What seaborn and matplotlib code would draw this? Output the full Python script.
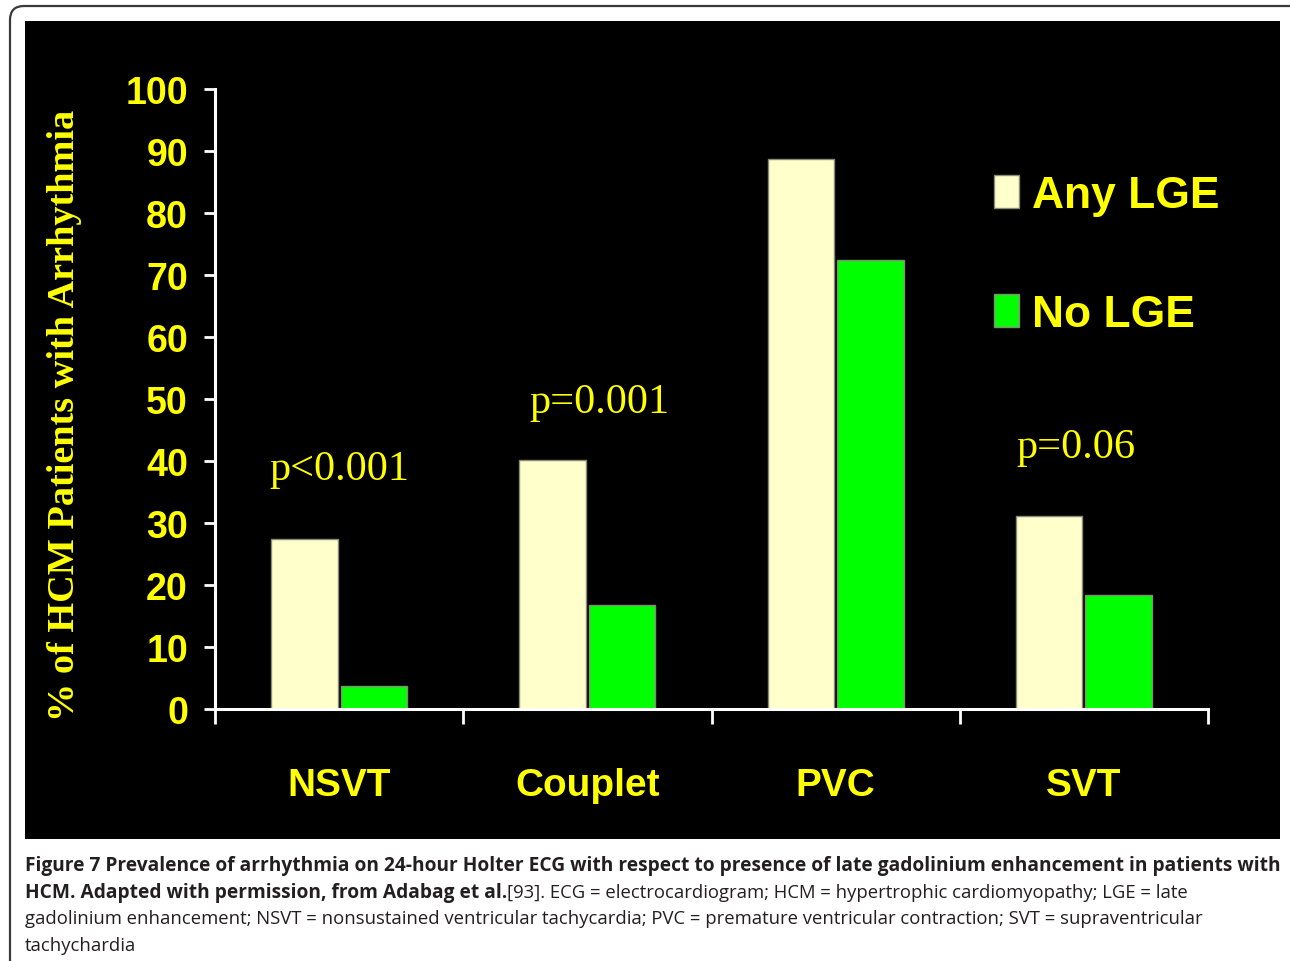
import matplotlib
matplotlib.use("Agg")
import matplotlib.pyplot as plt
import seaborn as sns
import pandas as pd
from matplotlib import font_manager as fm
from matplotlib.patches import Rectangle, FancyBboxPatch
from matplotlib.transforms import IdentityTransform

# ---------------- data ----------------
categories = ["NSVT", "Couplet", "PVC", "SVT"]
groups = ["Any LGE", "No LGE"]
any_lge = [27.5, 40.2, 88.7, 31.1]
no_lge = [3.7, 16.8, 72.4, 18.4]
p_labels = ["p<0.001", "p=0.001", "", "p=0.06"]
p_label_x = [0.0, 1.05, 2.0, 2.97]
p_label_y = [37.1, 47.9, 0.0, 40.6]
y_ticks = list(range(0, 101, 10))
y_label = "% of HCM Patients with Arrhythmia"

caption_lines = [
    [("Figure 7 Prevalence of arrhythmia on 24-hour Holter ECG with respect to presence of late gadolinium enhancement in patients with", "bold")],
    [("HCM. Adapted with permission, from Adabag et al.", "bold"),
     ("[93]. ECG = electrocardiogram; HCM = hypertrophic cardiomyopathy; LGE = late", "normal")],
    [("gadolinium enhancement; NSVT = nonsustained ventricular tachycardia; PVC = premature ventricular contraction; SVT = supraventricular", "normal")],
    [("tachychardia", "normal")],
]

df = pd.DataFrame({
    "category": categories * 2,
    "value": any_lge + no_lge,
    "group": [groups[0]] * len(categories) + [groups[1]] * len(categories),
})

# ---------------- style ----------------
sns.set_theme(style="white")
names = {f.name for f in fm.fontManager.ttflist}
NARROW = "Liberation Sans Narrow" if "Liberation Sans Narrow" in names else "Liberation Sans"
narrow_scale = 1.0 if NARROW == "Liberation Sans Narrow" else 0.82
SERIF = "Liberation Serif"
CAPFONT = "Open Sans" if "Open Sans" in names else "DejaVu Sans"
plt.rcParams["font.family"] = [NARROW, "DejaVu Sans"]

YELLOW = "#FFFF00"
CREAM = "#FFFFCC"
GREEN = "#00FF00"
W, H = 1290, 962

fig = plt.figure(figsize=(W / 100, H / 100), dpi=100, facecolor="white")

# outer rounded frame
frame = FancyBboxPatch((10, -40), 1340, 955 + 40, boxstyle="round,pad=0,rounding_size=14",
                       fill=False, edgecolor="#3a3a3a", linewidth=1.6,
                       transform=IdentityTransform(), zorder=0)
fig.add_artist(frame)
# black panel
panel = Rectangle((25 / W, 1 - 840 / H), 1255 / W, 818 / H, transform=fig.transFigure,
                  facecolor="black", edgecolor="none", zorder=0)
fig.add_artist(panel)

ax = fig.add_axes([215 / W, 1 - 710 / H, 993 / W, 620 / H])
ax.set_facecolor("none")

sns.barplot(data=df, x="category", y="value", hue="group", order=categories,
            hue_order=groups, palette=[CREAM, GREEN], width=0.56, gap=0.04,
            edgecolor="#8a8a7a", linewidth=1.0, saturation=1, ax=ax)

ax.set_xlim(-0.5, len(categories) - 0.5)
ax.set_ylim(0, 100)
for s in ["top", "right"]:
    ax.spines[s].set_visible(False)
for s in ["left", "bottom"]:
    ax.spines[s].set_color("white")
    ax.spines[s].set_linewidth(2.2)

ax.set_yticks(y_ticks)
ax.set_yticklabels([str(t) for t in y_ticks])
ax.tick_params(axis="y", which="major", direction="out", length=8, width=2.0,
               color="white", left=True, pad=11.5, labelcolor=YELLOW,
               labelsize=33 * narrow_scale)
for lab in ax.get_yticklabels():
    lab.set_fontweight("bold")

ax.set_xticks(range(len(categories)))
ax.set_xticklabels(categories)
ax.set_xticks([i - 0.5 for i in range(len(categories) + 1)], minor=True)
ax.tick_params(axis="x", which="major", length=0, pad=42, labelcolor=YELLOW,
               labelsize=34 * narrow_scale)
ax.tick_params(axis="x", which="minor", direction="out", length=11, width=2.0,
               color="white", bottom=True)
for lab in ax.get_xticklabels():
    lab.set_fontweight("bold")
ax.set_xlabel("")
ax.set_ylabel("")

# p-value annotations
for lab, px, py in zip(p_labels, p_label_x, p_label_y):
    if lab:
        ax.text(px, py, lab, ha="center", va="baseline", color=YELLOW,
                family=[SERIF, "DejaVu Serif"], fontsize=30.5)

# y label
fig.text(65 / W, 1 - 415 / H, y_label, rotation=90, ha="center", va="center",
         color=YELLOW, family=[SERIF, "DejaVu Serif"], fontweight="bold", fontsize=27.5)

# legend
old = ax.get_legend()
handles = old.legend_handles
labels = [t.get_text() for t in old.texts]
old.remove()
leg = ax.legend(handles, labels, loc="upper left", frameon=False,
                bbox_to_anchor=(994 / W, 1 - 176 / H), bbox_transform=fig.transFigure,
                prop={"family": [NARROW, "DejaVu Sans"], "weight": "bold",
                      "size": 39 * narrow_scale},
                handlelength=0.56, handleheight=0.78, handletextpad=0.3,
                labelspacing=1.75, borderpad=0, borderaxespad=0)
for t in leg.get_texts():
    t.set_color(YELLOW)
for h in leg.legend_handles:
    h.set_edgecolor("#8a8a7a")

# caption
renderer = fig.canvas.get_renderer()
baselines = [871, 898, 924, 951]
sizes = {"bold": 13.8, "normal": 13.3}
for line, base in zip(caption_lines, baselines):
    x = 25
    for txt, weight in line:
        t = fig.text(x / W, 1 - base / H, txt, ha="left", va="baseline",
                     family=[CAPFONT, "DejaVu Sans"], fontweight=weight,
                     fontsize=sizes[weight], color="#231f20")
        bb = t.get_window_extent(renderer=renderer)
        x = bb.x1

fig.savefig("out.png", dpi=100, facecolor="white")
